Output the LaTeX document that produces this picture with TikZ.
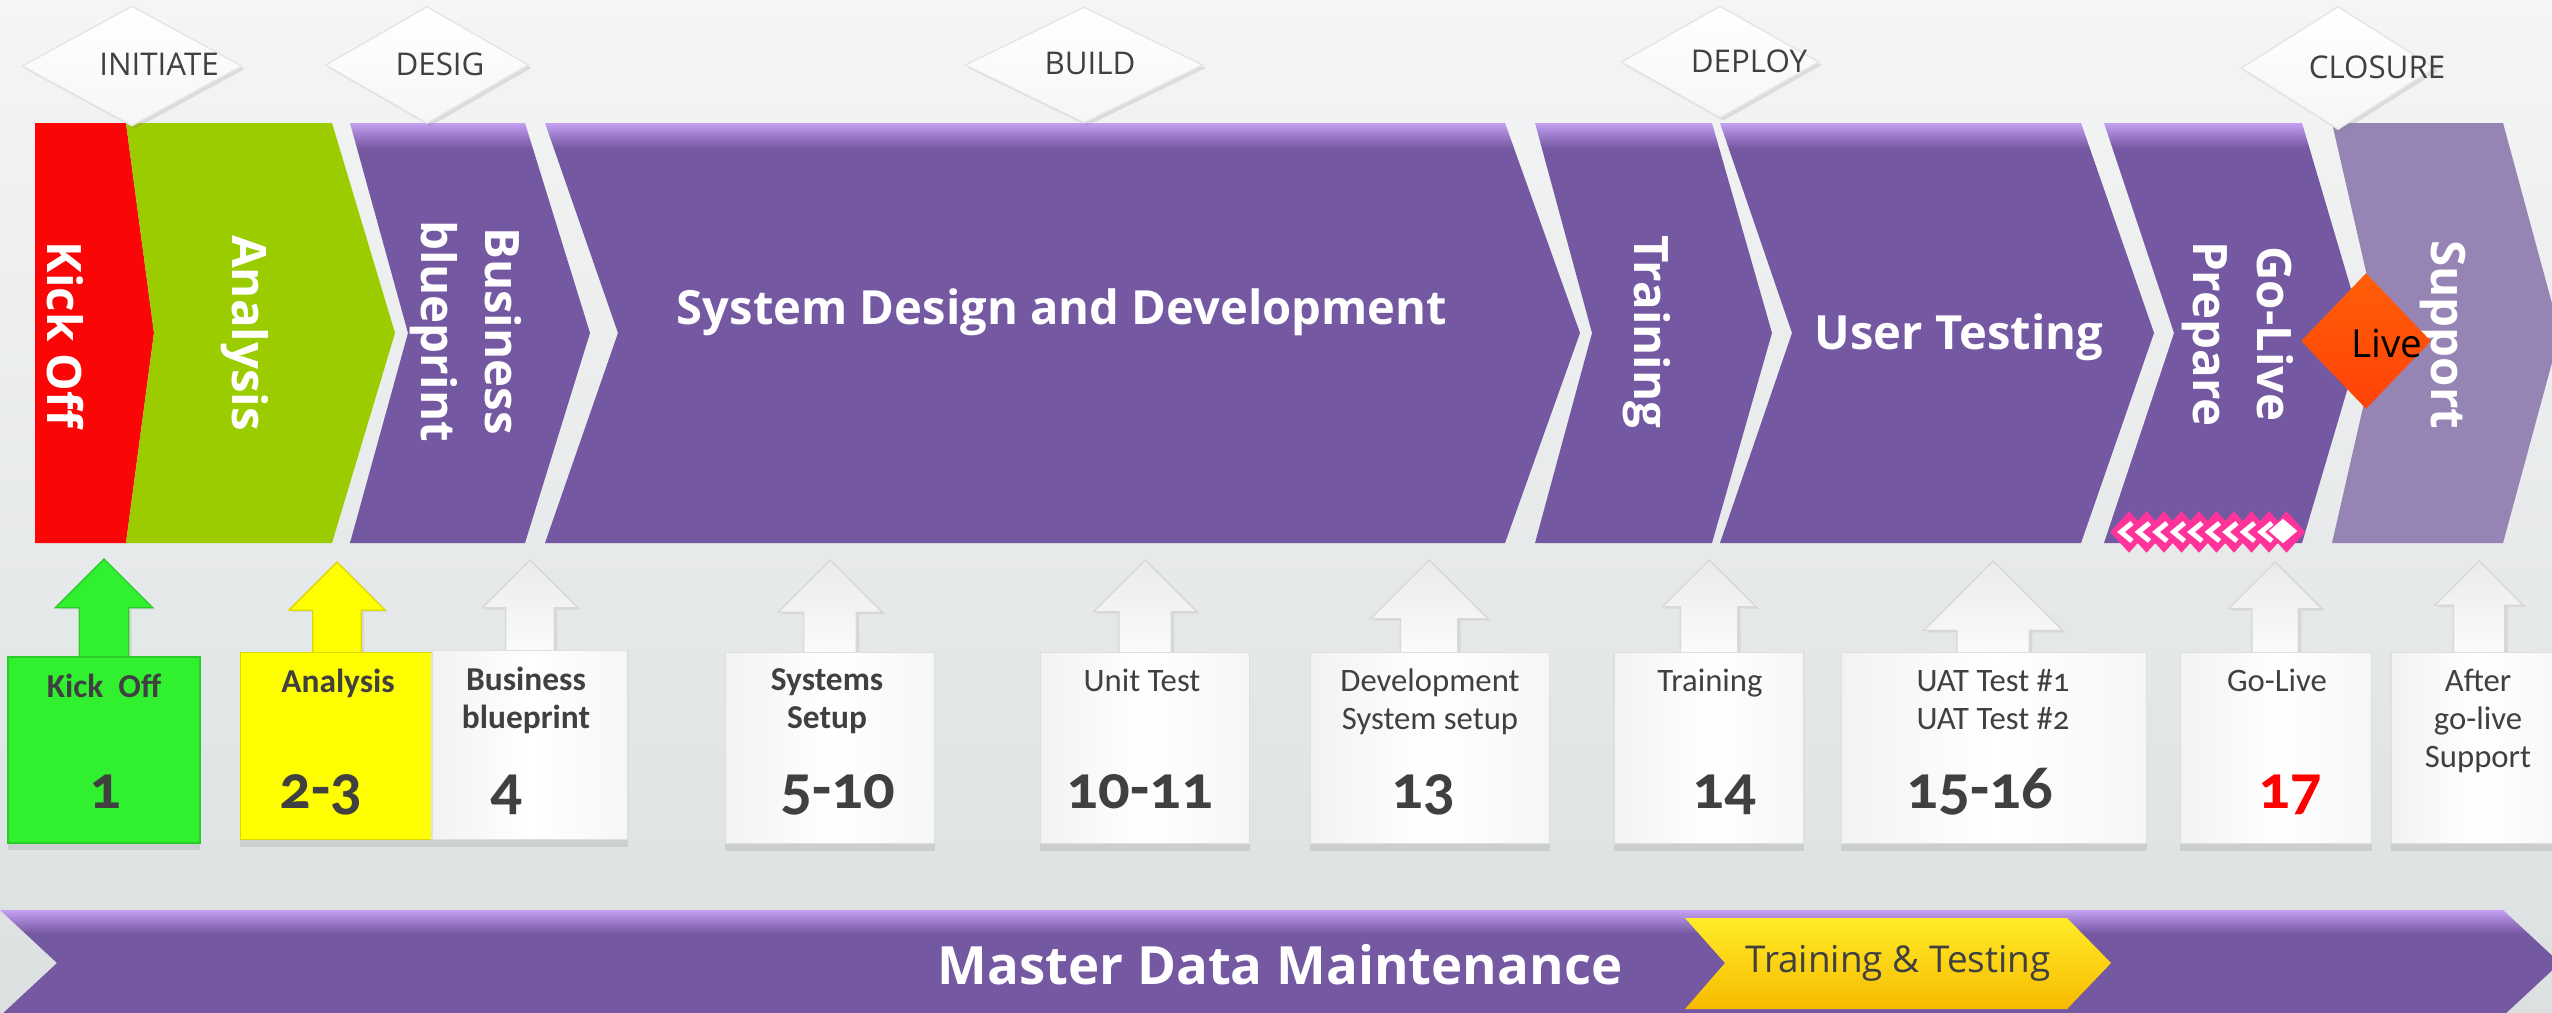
\documentclass[tikz,border=0pt]{standalone}
\usepackage{fontspec}
\setmainfont{Open Sans}
\newfontfamily\boxfont[Numbers=OldStyle]{Carlito}
\usepackage{tikz}
\usetikzlibrary{positioning,shapes.geometric,shapes.arrows,shadows}

\definecolor{phasepurple}{RGB}{117,88,162}
\definecolor{phasetop}{RGB}{196,160,242}
\definecolor{supportlilac}{RGB}{150,133,180}
\definecolor{kickred}{RGB}{250,6,6}
\definecolor{analysisgreen}{RGB}{155,204,0}
\definecolor{livered}{RGB}{255,66,8}
\definecolor{gempink}{RGB}{255,51,153}
\definecolor{boxgreen}{RGB}{48,240,48}
\definecolor{boxyellow}{RGB}{255,255,0}
\definecolor{textgray}{RGB}{64,64,64}
\definecolor{testgold}{RGB}{248,186,0}
\definecolor{goldtop}{RGB}{255,236,40}
\definecolor{bgtop}{RGB}{244,245,245}
\definecolor{bgbottom}{RGB}{220,224,225}

\pgfdeclareverticalshading{phaseshade}{100bp}{color(0bp)=(phasepurple); color(72bp)=(phasepurple); color(75bp)=(phasetop); color(100bp)=(phasetop)}
\pgfdeclareverticalshading{bandshade}{100bp}{color(0bp)=(phasepurple); color(64bp)=(phasepurple); color(75bp)=(phasetop); color(100bp)=(phasetop)}

\tikzset{
  % Specifications for style of nodes:
  phase/.style = {
    shading=phaseshade
  },
  gem/.style = {
    diamond,
    top color=white,
    bottom color=gray!7,
    draw=gray!20,
    drop shadow={opacity=0.2, shadow xshift=0.03cm, shadow yshift=-0.03cm}
  },
  gemtext/.style = {
    font=\fontsize{8.9}{10}\selectfont,
    text=textgray
  },
  phasetext/.style = {
    font=\fontsize{13.5}{18.3}\selectfont\bfseries,
    text=white,
    rotate=-90,
    align=center
  },
  headtext/.style = {
    font=\fontsize{13.4}{16}\selectfont\bfseries,
    text=white
  },
  weekarrow/.style = {
    single arrow,
    rotate=90,
    anchor=tip,
    inner sep=0pt,
    draw=gray!30,
    minimum height=1.15cm,
    drop shadow={opacity=0.15, shadow xshift=0.03cm, shadow yshift=-0.02cm}
  },
  whitearrow/.style = {
    weekarrow,
    top color=gray!16,
    bottom color=white
  },
  weekbox/.style = {
    rectangle,
    draw=gray!25,
    minimum height=1.91cm,
    drop shadow={opacity=0.2, shadow xshift=0cm, shadow yshift=-0.07cm}
  },
  whitebox/.style = {
    weekbox,
    left color=gray!10,
    right color=gray!7,
    middle color=white
  },
  boxtext/.style = {
    font=\boxfont\fontsize{9.3}{11}\selectfont,
    text=textgray,
    anchor=base
  },
  boxhead/.style = {
    boxtext,
    font=\boxfont\fontsize{9.5}{11}\selectfont\bfseries
  },
  weeknum/.style = {
    font=\boxfont\fontsize{17.8}{20}\selectfont\bfseries,
    text=textgray,
    anchor=base
  },
  livegem/.style = {
    diamond,
    inner sep=0pt,
    top color=livered!85!yellow,
    bottom color=livered,
    minimum width=1.3cm,
    minimum height=1.36cm
  },
  livetext/.style = {
    font=\fontsize{11}{12}\selectfont,
    text=black
  },
  pinkgem/.style = {
    diamond,
    inner sep=0pt,
    fill=gempink,
    minimum width=0.38cm,
    minimum height=0.42cm
  },
  gemtick/.style = {
    draw=white,
    line width=1.4pt
  },
  whitegem/.style = {
    diamond,
    inner sep=0pt,
    fill=white,
    minimum width=0.29cm,
    minimum height=0.25cm
  },
  bandtext/.style = {
    font=\fontsize{15}{18}\selectfont\bfseries,
    text=white
  },
  goldtext/.style = {
    font=\fontsize{10.5}{12}\selectfont,
    text=textgray
  },
}

\begin{document}
\begin{tikzpicture}[x=0.01cm, y=-0.01cm]
    % Background
    \useasboundingbox (0,0) rectangle (2552,1012);
    \fill[top color=bgtop, bottom color=bgbottom] (0,0) rectangle (2552,1012);

    % Phase chevrons
    \fill[kickred] (35,123) -- (126,123) -- (154,333) -- (126,543) -- (35,543) -- cycle;
    \fill[analysisgreen] (126,123) -- (332,123) -- (395,333) -- (332,543) -- (126,543) -- (154,333) -- cycle;
    \path[phase] (350,123) -- (525,123) -- (590,333) -- (525,543) -- (350,543) -- (408,333) -- cycle;
    \path[phase] (545,123) -- (1505,123) -- (1580,333) -- (1505,543) -- (545,543) -- (618,333) -- cycle;
    \path[phase] (1535,123) -- (1712,123) -- (1772,333) -- (1712,543) -- (1535,543) -- (1592,333) -- cycle;
    \path[phase] (1720,123) -- (2081,123) -- (2154,333) -- (2081,543) -- (1720,543) -- (1792,333) -- cycle;
    \path[phase] (2104,123) -- (2302,123) -- (2364,333) -- (2302,543) -- (2104,543) -- (2174,333) -- cycle;
    \fill[supportlilac] (2332,123) -- (2503,123) -- (2560,333) -- (2503,543) -- (2332,543) -- (2380,333) -- cycle;

    % Labels of the chevrons
    \node[phasetext]                 (kickofflabel)   at (65,335)   {Kick Off};
    \node[phasetext]                 (analysislabel)  at (245,333)  {Analysis};
    \node[phasetext]                 (blueprintlabel) at (466,331)  {Business\\blueprint};
    \node[headtext]                  (designlabel)    at (1062,312) {System Design and Development};
    \node[phasetext]                 (traininglabel)  at (1647,332) {Training};
    \node[headtext]                  (testinglabel)   at (1959,337) {User Testing};
    \node[phasetext]                 (preparelabel)   at (2238,334) {Go-Live\\Prepare};
    \node[phasetext]                 (supportlabel)   at (2443,335) {Support};

    % Go-live milestone
    \node[livegem]                   (live)           at (2366,341) {};
    \node[livetext]                  (livelabel)      at (2387,343) {Live};
    \node[pinkgem] (gem0) at (2129,532) {};
    \draw[gemtick] (2132,523) -- (2121,532) -- (2132,541);
    \node[pinkgem] (gem1) at (2146.5,532) {};
    \draw[gemtick] (2149.5,523) -- (2138.5,532) -- (2149.5,541);
    \node[pinkgem] (gem2) at (2164,532) {};
    \draw[gemtick] (2167,523) -- (2156,532) -- (2167,541);
    \node[pinkgem] (gem3) at (2181.5,532) {};
    \draw[gemtick] (2184.5,523) -- (2173.5,532) -- (2184.5,541);
    \node[pinkgem] (gem4) at (2199,532) {};
    \draw[gemtick] (2202,523) -- (2191,532) -- (2202,541);
    \node[pinkgem] (gem5) at (2216.5,532) {};
    \draw[gemtick] (2219.5,523) -- (2208.5,532) -- (2219.5,541);
    \node[pinkgem] (gem6) at (2234,532) {};
    \draw[gemtick] (2237,523) -- (2226,532) -- (2237,541);
    \node[pinkgem] (gem7) at (2251.5,532) {};
    \draw[gemtick] (2254.5,523) -- (2243.5,532) -- (2254.5,541);
    \node[pinkgem] (gem8) at (2269,532) {};
    \draw[gemtick] (2272,523) -- (2261,532) -- (2272,541);
    \node[pinkgem] (gem9) at (2286.5,532) {};
    \node[whitegem] (gemend) at (2283,531) {};

    % Phase diamonds
    \node[gem, minimum width=2.2cm, minimum height=1.2cm]   (initiate)    at (132,66)   {};
    \node[gemtext]                                          (initiatetxt) at (159,64)   {INITIATE};
    \node[gem, minimum width=2.03cm, minimum height=1.17cm] (desig)       at (427,65)   {};
    \node[gemtext]                                          (desigtxt)    at (440,64)   {DESIG};
    \node[gem, minimum width=2.38cm, minimum height=1.16cm] (build)       at (1084,65)  {};
    \node[gemtext]                                          (buildtxt)    at (1090,63)  {BUILD};
    \node[gem, minimum width=1.98cm, minimum height=1.12cm] (deploy)      at (1720,62)  {};
    \node[gemtext]                                          (deploytxt)   at (1749,61)  {DEPLOY};
    \node[gem, minimum width=1.94cm, minimum height=1.23cm] (closure)     at (2338,68)  {};
    \node[gemtext]                                          (closuretxt)  at (2377,67)  {CLOSURE};

    % Week arrows
    \node[weekarrow, fill=boxgreen, draw=boxgreen!85!black, inner ysep=0.24cm, minimum width=0.96cm, single arrow head extend=0.24cm] (kickoffarrow) at (104,558) {};
    \node[weekarrow, fill=boxyellow, draw=boxyellow!85!black, inner ysep=0.235cm, minimum width=0.95cm, single arrow head extend=0.24cm] (analysisarrow) at (337,561) {};
    \node[whitearrow, inner ysep=0.235cm, minimum width=0.94cm, single arrow head extend=0.235cm] (blueprintarrow) at (530,559)  {};
    \node[whitearrow, inner ysep=0.255cm, minimum width=1.03cm, single arrow head extend=0.26cm]  (setuparrow)     at (830,559)  {};
    \node[whitearrow, inner ysep=0.255cm, minimum width=1.02cm, single arrow head extend=0.255cm] (unitarrow)      at (1145,559) {};
    \node[whitearrow, inner ysep=0.28cm,  minimum width=1.16cm, single arrow head extend=0.3cm]   (devarrow)       at (1429,559) {};
    \node[whitearrow, inner ysep=0.28cm,  minimum width=0.92cm, single arrow head extend=0.18cm]  (trainarrow)     at (1709,559) {};
    \node[whitearrow, inner ysep=0.355cm, minimum width=1.37cm, single arrow head extend=0.33cm]  (uatarrow)       at (1993,560) {};
    \node[whitearrow, inner ysep=0.225cm, minimum width=0.92cm, single arrow head extend=0.235cm] (golivearrow)    at (2275,561) {};
    \node[whitearrow, inner ysep=0.25cm,  minimum width=0.87cm, single arrow head extend=0.185cm] (afterarrow)     at (2479,560) {};

    % Week boxes
    \node[weekbox, fill=boxgreen, draw=boxgreen!85!black, minimum width=1.92cm, minimum height=1.86cm] (kickoffbox) at (104,750) {};
    \node[weekbox, fill=boxyellow, draw=boxyellow!85!black, minimum width=1.91cm, minimum height=1.87cm] (analysisbox) at (336,746) {};
    \node[whitebox, minimum width=1.96cm, minimum height=1.89cm] (blueprintbox) at (530,745)  {};
    \node[whitebox, minimum width=2.09cm]                        (setupbox)     at (830,748)  {};
    \node[whitebox, minimum width=2.09cm]                        (unitbox)      at (1145,748) {};
    \node[whitebox, minimum width=2.39cm]                        (devbox)       at (1430,748) {};
    \node[whitebox, minimum width=1.90cm]                        (trainbox)     at (1709,748) {};
    \node[whitebox, minimum width=3.05cm]                        (uatbox)       at (1994,748) {};
    \node[whitebox, minimum width=1.91cm]                        (golivebox)    at (2276,748) {};
    \node[whitebox, minimum width=1.76cm]                        (afterbox)     at (2479,748) {};

    % Texts of the boxes
    \node[boxhead] (kickofftxt)    at (104,697)  {Kick\ \ Off};
    \node[boxhead] (analysistxt)   at (338,692)  {Analysis};
    \node[boxhead] (blueprinttxt)  at (526,690)  {Business};
    \node[boxhead] (blueprinttxtb) at (526,728)  {blueprint};
    \node[boxhead] (setuptxt)      at (827,690)  {Systems};
    \node[boxhead] (setuptxtb)     at (827,728)  {Setup};
    \node[boxtext] (unittxt)       at (1142,691) {Unit Test};
    \node[boxtext] (devtxt)        at (1430,691) {Development};
    \node[boxtext] (devtxtb)       at (1430,729) {System setup};
    \node[boxtext] (traintxt)      at (1710,691) {Training};
    \node[boxtext] (uattxt)        at (1993,691) {UAT Test \#1};
    \node[boxtext] (uattxtb)       at (1993,729) {UAT Test \#2};
    \node[boxtext] (golivetxt)     at (2277,691) {Go-Live};
    \node[boxtext] (aftertxt)      at (2478,691) {After};
    \node[boxtext] (aftertxtb)     at (2478,729) {go-live};
    \node[boxtext] (aftertxtc)     at (2478,767) {Support};

    % Week numbers
    \node[weeknum]           (kickoffweek)   at (105,808)  {1};
    \node[weeknum]           (analysisweek)  at (321,808)  {2-3};
    \node[weeknum]           (blueprintweek) at (506,808)  {4};
    \node[weeknum]           (setupweek)     at (838,808)  {5-10};
    \node[weeknum]           (unitweek)      at (1140,808) {10-11};
    \node[weeknum]           (devweek)       at (1423,808) {13};
    \node[weeknum]           (trainweek)     at (1724,808) {14};
    \node[weeknum]           (uatweek)       at (1980,808) {15-16};
    \node[weeknum, text=red] (goliveweek)    at (2290,808) {17};

    % Master data band
    \path[shading=bandshade] (0,910) -- (2503,910) -- (2560,963) -- (2503,1016) -- (0,1016) -- (57,963) -- cycle;
    \node[bandtext] (mdmtxt) at (1280,965) {Master Data Maintenance};
    \path[top color=goldtop, bottom color=testgold] (1685,918) -- (2067,918) -- (2111,963) -- (2067,1009) -- (1685,1009) -- (1725,963) -- cycle;
    \node[goldtext] (testingtxt) at (1898,963) {Training \& Testing};
\end{tikzpicture}
\end{document}
